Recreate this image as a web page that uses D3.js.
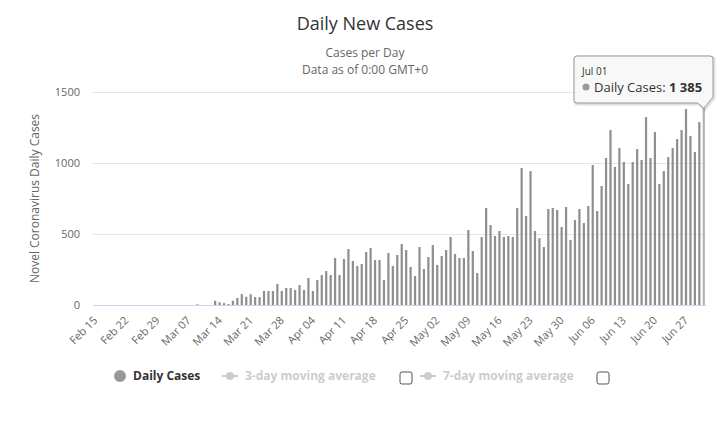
<!DOCTYPE html>
<html>
<head>
<meta charset="utf-8">
<script src="https://cdn.jsdelivr.net/npm/d3@7"></script>
<style>
  html, body { margin: 0; padding: 0; background: #fff; }
  svg { display: block; font-family: "Open Sans", "Noto Sans", sans-serif; }
</style>
</head>
<body>
<svg id="chart" width="721" height="433"></svg>
<script>
// ---- data ----
const startDate = "2020-02-15";
const endDate = "2020-07-02"; // exclusive
const dailyCases = [
  0,0,0,0,0,0,0,0,0,0, 0,0,0,0,0,0,0,0,0,0, 0,0,0,5,0,0,0,30,19,13,
  7,30,50,77,58,76,56,56,99,99, 99,148,99,120,120,106,140,106,190,99,
  176,211,239,211,331,211,324,394,310,275, 289,373,401,317,317,176,366,275,352,429,
  387,268,204,408,253,338,422,282,345,387, 479,359,331,331,528,380,225,479,683,563,
  486,521,479,486,479,683,964,627,943,521, 470,408,676,683,669,549,690,458,598,676,
  577,697,986,662,838,1035,1232,972,1105,1007, 852,1007,1098,1021,1323,1035,1218,852,943,1042,
  1105,1169,1232,1380,1190,1077,1288,1385
];
const xTickLabels = ["Feb 15","Feb 22","Feb 29","Mar 07","Mar 14","Mar 21","Mar 28","Apr 04","Apr 11",
  "Apr 18","Apr 25","May 02","May 09","May 16","May 23","May 30","Jun 06","Jun 13","Jun 20","Jun 27"];
const yTickValues = [0, 500, 1000, 1500];
const seriesName = "Daily Cases";
const legendItems = ["Daily Cases", "3-day moving average", "7-day moving average"];
const hoverIndex = dailyCases.length - 1;
const tooltipDate = "Jul 01";
const tooltipValue = "1 385";

// ---- layout ----
const svg = d3.select("#chart");
const plot = { left: 93, right: 706, top: 92, bottom: 305 };
const fmt = d3.timeFormat("%b %d");
const dates = d3.timeDay.range(new Date(startDate + "T00:00:00"), new Date(endDate + "T00:00:00"));
const categories = dates.map(fmt);

const x = d3.scaleBand()
  .domain(categories)
  .range([plot.left, plot.right])
  .paddingInner(0.5)
  .paddingOuter(0.25);
const y = d3.scaleLinear().domain([0, 1500]).range([plot.bottom, plot.top]);

// title
svg.append("text").attr("x", 365).attr("y", 30).attr("text-anchor", "middle")
  .attr("font-size", 18).attr("fill", "#333").text("Daily New Cases");
svg.append("text").attr("x", 365).attr("y", 57).attr("text-anchor", "middle")
  .attr("font-size", 12).attr("fill", "#666").text("Cases per Day");
svg.append("text").attr("x", 365).attr("y", 74).attr("text-anchor", "middle")
  .attr("font-size", 12).attr("fill", "#666").text("Data as of 0:00 GMT+0");

// y axis with grid
const yAxis = svg.append("g").attr("transform", `translate(${plot.left},0)`)
  .call(d3.axisLeft(y).tickValues(yTickValues).tickFormat(d3.format("d"))
    .tickSize(-(plot.right - plot.left)).tickPadding(13));
yAxis.select(".domain").remove();
yAxis.selectAll("line").attr("stroke", "#e6e6e6");
yAxis.selectAll("text").attr("fill", "#666").attr("font-size", 11)
  .attr("font-family", "'Open Sans', 'Noto Sans', sans-serif");

// y title
svg.append("text")
  .attr("transform", `translate(39,${(plot.top + plot.bottom) / 2}) rotate(-90)`)
  .attr("text-anchor", "middle").attr("font-size", 12).attr("fill", "#666")
  .text("Novel Coronavirus Daily Cases");

// bars
svg.append("g").selectAll("rect").data(dailyCases).join("rect")
  .attr("x", (d, i) => x(categories[i]))
  .attr("width", x.bandwidth())
  .attr("y", d => y(d))
  .attr("height", d => y(0) - y(d))
  .attr("fill", (d, i) => i === hoverIndex ? "#b3b3b3" : "#8f8f8f");

// x axis
const tickCats = xTickLabels.filter(l => categories.includes(l));
const xAxis = svg.append("g").attr("transform", `translate(0,${plot.bottom})`)
  .call(d3.axisBottom(x).tickValues(tickCats).tickSize(0).tickPadding(0));
xAxis.select(".domain").attr("stroke", "#ccd6eb");
xAxis.selectAll(".tick text")
  .attr("fill", "#666").attr("font-size", 11)
  .attr("font-family", "'Open Sans', 'Noto Sans', sans-serif")
  .attr("text-anchor", "end")
  .attr("dy", null).attr("y", 0)
  .attr("transform", "translate(3,16) rotate(-45)");

// tooltip
const hx = x(categories[hoverIndex]) + x.bandwidth() / 2;
const hy = y(dailyCases[hoverIndex]);
const bx0 = 574, bx1 = 713, by0 = 56, by1 = 103, r = 3;
const tipPath = `M${bx0 + r},${by0} L${bx1 - r},${by0} Q${bx1},${by0} ${bx1},${by0 + r}
  L${bx1},${by1 - 6} L${hx},${hy} L${hx - 6},${by1} L${bx0 + r},${by1}
  Q${bx0},${by1} ${bx0},${by1 - r} L${bx0},${by0 + r} Q${bx0},${by0} ${bx0 + r},${by0} Z`;
svg.append("path").attr("d", tipPath).attr("transform", "translate(1,1)")
  .attr("fill", "none").attr("stroke", "rgba(0,0,0,0.12)").attr("stroke-width", 3);
svg.append("path").attr("d", tipPath).attr("fill", "rgba(247,247,247,0.92)")
  .attr("stroke", "#999").attr("stroke-width", 1);
svg.append("text").attr("x", 582).attr("y", 75).attr("font-size", 10).attr("fill", "#333").text(tooltipDate);
svg.append("circle").attr("cx", 586).attr("cy", 87).attr("r", 3.5).attr("fill", "#999");
const tt = svg.append("text").attr("x", 594).attr("y", 92).attr("font-size", 13).attr("fill", "#333");
tt.append("tspan").text(seriesName + ": ");
tt.append("tspan").attr("font-weight", "bold").text(tooltipValue);

// legend
const lg = svg.append("g").attr("font-size", 12).attr("font-weight", "bold");
lg.append("circle").attr("cx", 120).attr("cy", 376).attr("r", 6).attr("fill", "#999");
lg.append("text").attr("x", 133).attr("y", 380).attr("fill", "#333").text(legendItems[0]);
const symbols = [{ sx: 222, tx: 245, cb: 400 }, { sx: 420, tx: 443, cb: 597 }];
symbols.forEach((s, k) => {
  lg.append("line").attr("x1", s.sx).attr("x2", s.sx + 16).attr("y1", 376).attr("y2", 376)
    .attr("stroke", "#ccc").attr("stroke-width", 2);
  lg.append("circle").attr("cx", s.sx + 8).attr("cy", 376).attr("r", 4).attr("fill", "#ccc");
  lg.append("text").attr("x", s.tx).attr("y", 380).attr("fill", "#ccc").text(legendItems[k + 1]);
  lg.append("rect").attr("x", s.cb).attr("y", 372).attr("width", 12).attr("height", 12)
    .attr("rx", 2).attr("fill", "#fff").attr("stroke", "#555").attr("stroke-width", 1);
});
</script>
</body>
</html>
